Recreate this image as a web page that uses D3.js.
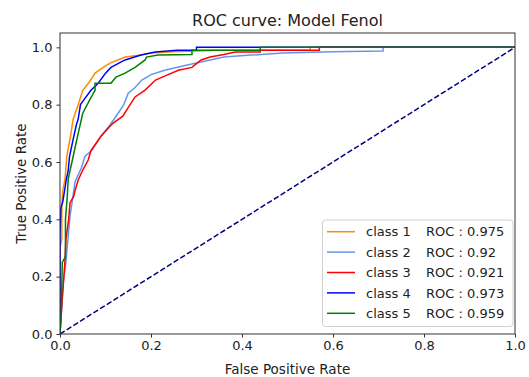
<!DOCTYPE html>
<html>
<head>
<meta charset="utf-8">
<script src="https://cdn.jsdelivr.net/npm/d3@7"></script>
<style>
  body { margin: 0; background: #fff; }
  text { font-family: "DejaVu Sans", sans-serif; fill: #222; }
</style>
</head>
<body>
<svg id="chart" width="529" height="377"></svg>
<script>
// ROC points, [fpr, tpr]
const class1 = [[0,0],[0,0.30],[0.004,0.33],[0.004,0.45],[0.006,0.50],[0.011,0.54],[0.015,0.62],[0.024,0.70],[0.029,0.75],[0.040,0.80],[0.050,0.85],[0.065,0.88],[0.077,0.91],[0.095,0.93],[0.11,0.945],[0.143,0.966],[0.178,0.973],[0.20,0.98],[0.25,0.985],[0.35,0.99],[0.55,0.99],[0.55,1.0],[1,1]];
const class2 = [[0,0],[0.004,0.10],[0.007,0.18],[0.013,0.25],[0.015,0.29],[0.022,0.41],[0.033,0.53],[0.047,0.58],[0.055,0.62],[0.07,0.64],[0.09,0.69],[0.11,0.73],[0.128,0.77],[0.14,0.80],[0.15,0.84],[0.165,0.86],[0.18,0.886],[0.20,0.905],[0.23,0.92],[0.27,0.935],[0.30,0.945],[0.33,0.956],[0.36,0.966],[0.42,0.973],[0.49,0.98],[0.60,0.985],[0.71,0.987],[0.71,1.0],[1,1]];
const class3 = [[0,0],[0.004,0.10],[0.009,0.21],[0.011,0.26],[0.013,0.33],[0.019,0.40],[0.022,0.457],[0.03,0.48],[0.033,0.50],[0.04,0.537],[0.05,0.572],[0.062,0.607],[0.068,0.64],[0.09,0.69],[0.116,0.735],[0.138,0.76],[0.154,0.80],[0.165,0.827],[0.187,0.851],[0.21,0.886],[0.235,0.903],[0.26,0.92],[0.29,0.93],[0.31,0.956],[0.33,0.966],[0.36,0.975],[0.385,0.984],[0.44,0.984],[0.44,0.99],[0.57,0.99],[0.57,1.0],[1,1]];
const class4 = [[0,0],[0,0.35],[0.002,0.44],[0.006,0.46],[0.010,0.50],[0.014,0.54],[0.018,0.57],[0.021,0.62],[0.029,0.68],[0.036,0.73],[0.040,0.75],[0.045,0.80],[0.054,0.82],[0.068,0.85],[0.084,0.875],[0.10,0.91],[0.112,0.93],[0.143,0.956],[0.178,0.973],[0.209,0.984],[0.257,0.99],[0.30,0.99],[0.30,1.0],[1,1]];
const class5 = [[0,0],[0.003,0.09],[0.005,0.25],[0.012,0.27],[0.012,0.40],[0.016,0.48],[0.018,0.54],[0.029,0.62],[0.040,0.70],[0.050,0.77],[0.065,0.816],[0.077,0.85],[0.077,0.875],[0.112,0.875],[0.123,0.896],[0.143,0.91],[0.165,0.93],[0.187,0.956],[0.19,0.966],[0.215,0.973],[0.29,0.975],[0.29,0.99],[0.44,0.99],[0.44,1.0],[1,1]];

const series = [class1, class2, class3, class4, class5];
const labels = ["class 1", "class 2", "class 3", "class 4", "class 5"];
const aucs = ["0.975", "0.92", "0.921", "0.973", "0.959"];
const colors = ["darkorange", "cornflowerblue", "red", "blue", "green"];
const ticks = [0, 0.2, 0.4, 0.6, 0.8, 1.0];
const diagonal = [[0, 0], [1, 1]];

const svg = d3.select("#chart");
const mLeft = 60, mRight = 515, mTop = 33, mBottom = 334;

const x = d3.scaleLinear().domain([0, 1]).range([mLeft, mRight]);
const y = d3.scaleLinear().domain([0, 1.05]).range([mBottom, mTop]);

const line = d3.line().x(d => x(d[0])).y(d => y(d[1]));

// clip to axes area
svg.append("clipPath").attr("id", "clip")
  .append("rect")
  .attr("x", mLeft).attr("y", mTop)
  .attr("width", mRight - mLeft).attr("height", mBottom - mTop);

const plot = svg.append("g").attr("clip-path", "url(#clip)");

series.forEach((s, i) => {
  plot.append("path")
    .datum(s)
    .attr("d", line)
    .attr("fill", "none")
    .attr("stroke", colors[i])
    .attr("stroke-width", 1.5);
});

plot.append("path")
  .datum(diagonal)
  .attr("d", line)
  .attr("fill", "none")
  .attr("stroke", "navy")
  .attr("stroke-width", 1.5)
  .attr("stroke-dasharray", "5.5,2.4");

// axes
const xAxis = d3.axisBottom(x).tickValues(ticks).tickFormat(d3.format(".1f"))
  .tickSize(3.5).tickSizeOuter(0).tickPadding(3);
const yAxis = d3.axisLeft(y).tickValues(ticks).tickFormat(d3.format(".1f"))
  .tickSize(3.5).tickSizeOuter(0).tickPadding(4);

const gx = svg.append("g").attr("transform", `translate(0,${mBottom})`).call(xAxis);
const gy = svg.append("g").attr("transform", `translate(${mLeft},0)`).call(yAxis);
[gx, gy].forEach(g => {
  g.select(".domain").remove();
  g.selectAll("line").attr("stroke", "#333");
  g.selectAll("text").style("font-size", "13px").attr("fill", "#222");
});

svg.append("rect")
  .attr("x", mLeft).attr("y", mTop)
  .attr("width", mRight - mLeft).attr("height", mBottom - mTop)
  .attr("fill", "none")
  .attr("stroke", "#333")
  .attr("stroke-width", 1);

// titles
svg.append("text")
  .attr("x", (mLeft + mRight) / 2).attr("y", 26)
  .attr("text-anchor", "middle")
  .style("font-size", "16px")
  .text("ROC curve: Model Fenol");

svg.append("text")
  .attr("x", (mLeft + mRight) / 2).attr("y", 374)
  .attr("text-anchor", "middle")
  .style("font-size", "13.5px")
  .text("False Positive Rate");

svg.append("text")
  .attr("transform", `translate(26,${(mTop + mBottom) / 2}) rotate(-90)`)
  .attr("text-anchor", "middle")
  .style("font-size", "13.5px")
  .text("True Positive Rate");

// legend
const legend = svg.append("g");
legend.append("rect")
  .attr("x", 322.5).attr("y", 220)
  .attr("width", 190.5).attr("height", 106.5)
  .attr("rx", 3)
  .attr("fill", "#fff").attr("fill-opacity", 0.8)
  .attr("stroke", "#d0d0d0");

labels.forEach((lab, i) => {
  const cy = 231.7 + i * 20.4;
  legend.append("line")
    .attr("x1", 327).attr("x2", 355)
    .attr("y1", cy).attr("y2", cy)
    .attr("stroke", colors[i]).attr("stroke-width", 1.5);
  legend.append("text")
    .attr("x", 366).attr("y", cy).attr("dy", "0.36em")
    .style("font-size", "13px")
    .text(lab);
  legend.append("text")
    .attr("x", 426).attr("y", cy).attr("dy", "0.36em")
    .style("font-size", "13px")
    .text("ROC : " + aucs[i]);
});
</script>
</body>
</html>
